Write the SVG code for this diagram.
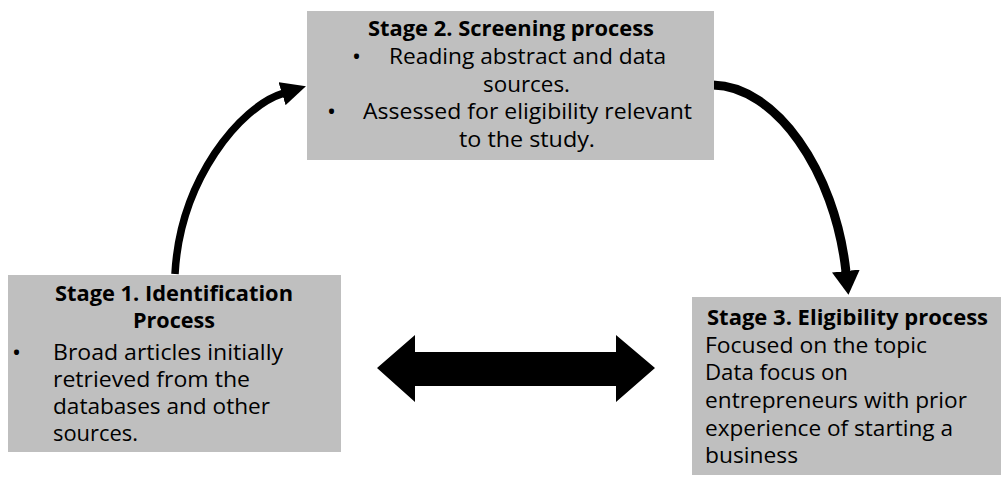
<svg xmlns="http://www.w3.org/2000/svg" width="1003" height="479" viewBox="0 0 1003 479">
<style>
.box{fill:#bfbfbf}
text{font-family:"Open Sans","Liberation Sans",sans-serif;font-size:21px;fill:#000}
.t{font-weight:bold}
.b{font-size:24px}
.c{fill:none;stroke:#000}
</style>
<defs>
<marker id="ah" viewBox="0 0 25 24" refX="1" refY="12" markerWidth="25" markerHeight="24" markerUnits="userSpaceOnUse" orient="auto">
<path d="M0,0 L25,12 L0,24 Z" fill="#000"/>
</marker>
<marker id="ah2" viewBox="0 0 24 28" refX="1" refY="14" markerWidth="24" markerHeight="28" markerUnits="userSpaceOnUse" orient="auto">
<path d="M0,0 L24,14 L0,28 Z" fill="#000"/>
</marker>
</defs>
<g id="connectors">
<path class="c" d="M175,274 C180,180 240,106.7 283,93.4" stroke-width="7.5" marker-end="url(#ah)"/>
<path class="c" d="M713,85 C775,86 835,170 846,272" stroke-width="9" marker-end="url(#ah2)"/>
<polygon points="377,368 415,335 415,352 616,352 616,335 655,368 616,402 616,386 415,386 415,402" fill="#000"/>
</g>
<g id="stage2">
<rect class="box" x="307" y="11" width="407" height="149"/>
<text class="t" x="368" y="36" textLength="286" lengthAdjust="spacingAndGlyphs">Stage 2. Screening process</text>
<text class="b" x="352" y="65">•</text>
<text x="389" y="64" textLength="277" lengthAdjust="spacingAndGlyphs">Reading abstract and data</text>
<text x="483" y="92" textLength="87" lengthAdjust="spacingAndGlyphs">sources.</text>
<text class="b" x="327" y="120">•</text>
<text x="363" y="119" textLength="329" lengthAdjust="spacingAndGlyphs">Assessed for eligibility relevant</text>
<text x="459" y="147" textLength="136" lengthAdjust="spacingAndGlyphs">to the study.</text>
</g>
<g id="stage1">
<rect class="box" x="8" y="275" width="333" height="177"/>
<text class="t" x="55" y="301" textLength="238" lengthAdjust="spacingAndGlyphs">Stage 1. Identification</text>
<text class="t" x="133" y="328" textLength="82" lengthAdjust="spacingAndGlyphs">Process</text>
<text class="b" x="12" y="361">•</text>
<text x="53" y="360" textLength="230" lengthAdjust="spacingAndGlyphs">Broad articles initially</text>
<text x="53" y="387" textLength="197" lengthAdjust="spacingAndGlyphs">retrieved from the</text>
<text x="53" y="414" textLength="217" lengthAdjust="spacingAndGlyphs">databases and other</text>
<text x="53" y="441" textLength="85" lengthAdjust="spacingAndGlyphs">sources.</text>
</g>
<g id="stage3">
<rect class="box" x="692" y="297" width="309" height="178"/>
<text class="t" x="707" y="325" textLength="281" lengthAdjust="spacingAndGlyphs">Stage 3. Eligibility process</text>
<text x="705" y="353" textLength="222" lengthAdjust="spacingAndGlyphs">Focused on the topic</text>
<text x="705" y="380" textLength="143" lengthAdjust="spacingAndGlyphs">Data focus on</text>
<text x="705" y="408" textLength="262" lengthAdjust="spacingAndGlyphs">entrepreneurs with prior</text>
<text x="705" y="436" textLength="248" lengthAdjust="spacingAndGlyphs">experience of starting a</text>
<text x="705" y="463" textLength="93" lengthAdjust="spacingAndGlyphs">business</text>
</g>
</svg>
